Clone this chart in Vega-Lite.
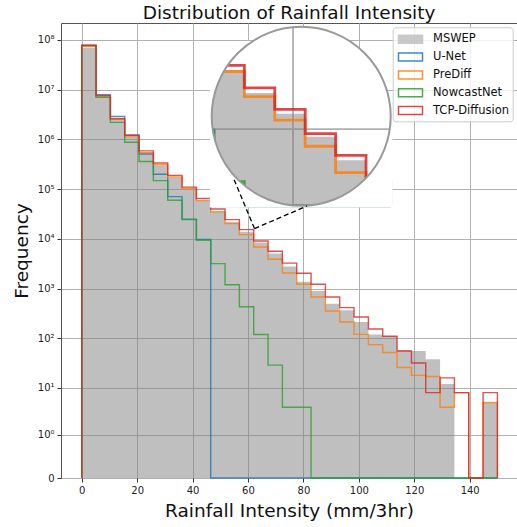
{
  "$schema": "https://vega.github.io/schema/vega-lite/v6.json",
  "width": 456,
  "height": 455,
  "autosize": {"type": "none"},
  "padding": {"left": 61, "top": 23, "right": 0, "bottom": 49},
  "title": {"text": "Distribution of Rainfall Intensity", "fontSize": 18.5, "font": "DejaVu Sans", "fontWeight": "normal", "color": "#111", "anchor": "middle", "frame": "group", "offset": 6, "baseline": "alphabetic", "dy": 21},
  "config": {
    "font": "DejaVu Sans",
    "view": {"stroke": "#555", "strokeWidth": 1}
  },
  "datasets": {
    "steps": [
      {"model":"MSWEP","i":0,"edge":0,"count":0},
      {"model":"MSWEP","i":1,"edge":0,"count":69000000},
      {"model":"MSWEP","i":2,"edge":5.172,"count":7300000},
      {"model":"MSWEP","i":3,"edge":10.345,"count":2450000},
      {"model":"MSWEP","i":4,"edge":15.517,"count":1100000},
      {"model":"MSWEP","i":5,"edge":20.69,"count":550000},
      {"model":"MSWEP","i":6,"edge":25.862,"count":300000},
      {"model":"MSWEP","i":7,"edge":31.034,"count":170000},
      {"model":"MSWEP","i":8,"edge":36.207,"count":102000},
      {"model":"MSWEP","i":9,"edge":41.379,"count":59000},
      {"model":"MSWEP","i":10,"edge":46.552,"count":36000},
      {"model":"MSWEP","i":11,"edge":51.724,"count":22000},
      {"model":"MSWEP","i":12,"edge":56.897,"count":14000},
      {"model":"MSWEP","i":13,"edge":62.069,"count":8500},
      {"model":"MSWEP","i":14,"edge":67.241,"count":5100},
      {"model":"MSWEP","i":15,"edge":72.414,"count":2800},
      {"model":"MSWEP","i":16,"edge":77.586,"count":1380},
      {"model":"MSWEP","i":17,"edge":82.759,"count":900},
      {"model":"MSWEP","i":18,"edge":87.931,"count":500},
      {"model":"MSWEP","i":19,"edge":93.103,"count":368},
      {"model":"MSWEP","i":20,"edge":98.276,"count":214},
      {"model":"MSWEP","i":21,"edge":103.448,"count":120},
      {"model":"MSWEP","i":22,"edge":108.621,"count":111},
      {"model":"MSWEP","i":23,"edge":113.793,"count":58},
      {"model":"MSWEP","i":24,"edge":118.966,"count":56},
      {"model":"MSWEP","i":25,"edge":124.138,"count":38},
      {"model":"MSWEP","i":26,"edge":129.31,"count":12},
      {"model":"MSWEP","i":27,"edge":134.483,"count":0},
      {"model":"MSWEP","i":28,"edge":139.655,"count":0},
      {"model":"MSWEP","i":29,"edge":144.828,"count":5},
      {"model":"MSWEP","i":30,"edge":150,"count":5},
      {"model":"MSWEP","i":31,"edge":150,"count":0},

      {"model":"U-Net","i":0,"edge":0,"count":0},
      {"model":"U-Net","i":1,"edge":0,"count":77000000},
      {"model":"U-Net","i":2,"edge":5.172,"count":7900000},
      {"model":"U-Net","i":3,"edge":10.345,"count":2900000},
      {"model":"U-Net","i":4,"edge":15.517,"count":1230000},
      {"model":"U-Net","i":5,"edge":20.69,"count":510000},
      {"model":"U-Net","i":6,"edge":25.862,"count":200000},
      {"model":"U-Net","i":7,"edge":31.034,"count":71000},
      {"model":"U-Net","i":8,"edge":36.207,"count":25000},
      {"model":"U-Net","i":9,"edge":41.379,"count":9800},
      {"model":"U-Net","i":10,"edge":46.552,"count":0},
      {"model":"U-Net","i":11,"edge":51.724,"count":0},
      {"model":"U-Net","i":12,"edge":56.897,"count":0},
      {"model":"U-Net","i":13,"edge":62.069,"count":0},
      {"model":"U-Net","i":14,"edge":67.241,"count":0},
      {"model":"U-Net","i":15,"edge":72.414,"count":0},
      {"model":"U-Net","i":16,"edge":77.586,"count":0},
      {"model":"U-Net","i":17,"edge":82.759,"count":0},
      {"model":"U-Net","i":18,"edge":87.931,"count":0},
      {"model":"U-Net","i":19,"edge":93.103,"count":0},
      {"model":"U-Net","i":20,"edge":98.276,"count":0},
      {"model":"U-Net","i":21,"edge":103.448,"count":0},
      {"model":"U-Net","i":22,"edge":108.621,"count":0},
      {"model":"U-Net","i":23,"edge":113.793,"count":0},
      {"model":"U-Net","i":24,"edge":118.966,"count":0},
      {"model":"U-Net","i":25,"edge":124.138,"count":0},
      {"model":"U-Net","i":26,"edge":129.31,"count":0},
      {"model":"U-Net","i":27,"edge":134.483,"count":0},
      {"model":"U-Net","i":28,"edge":139.655,"count":0},
      {"model":"U-Net","i":29,"edge":144.828,"count":0},
      {"model":"U-Net","i":30,"edge":150,"count":0},
      {"model":"U-Net","i":31,"edge":150,"count":0},

      {"model":"PreDiff","i":0,"edge":0,"count":0},
      {"model":"PreDiff","i":1,"edge":0,"count":74000000},
      {"model":"PreDiff","i":2,"edge":5.172,"count":7400000},
      {"model":"PreDiff","i":3,"edge":10.345,"count":2550000},
      {"model":"PreDiff","i":4,"edge":15.517,"count":1120000},
      {"model":"PreDiff","i":5,"edge":20.69,"count":540000},
      {"model":"PreDiff","i":6,"edge":25.862,"count":310000},
      {"model":"PreDiff","i":7,"edge":31.034,"count":176000},
      {"model":"PreDiff","i":8,"edge":36.207,"count":103000},
      {"model":"PreDiff","i":9,"edge":41.379,"count":59000},
      {"model":"PreDiff","i":10,"edge":46.552,"count":35000},
      {"model":"PreDiff","i":11,"edge":51.724,"count":20300},
      {"model":"PreDiff","i":12,"edge":56.897,"count":12200},
      {"model":"PreDiff","i":13,"edge":62.069,"count":6900},
      {"model":"PreDiff","i":14,"edge":67.241,"count":3900},
      {"model":"PreDiff","i":15,"edge":72.414,"count":2070},
      {"model":"PreDiff","i":16,"edge":77.586,"count":1230},
      {"model":"PreDiff","i":17,"edge":82.759,"count":681},
      {"model":"PreDiff","i":18,"edge":87.931,"count":357},
      {"model":"PreDiff","i":19,"edge":93.103,"count":214},
      {"model":"PreDiff","i":20,"edge":98.276,"count":121},
      {"model":"PreDiff","i":21,"edge":103.448,"count":75},
      {"model":"PreDiff","i":22,"edge":108.621,"count":52},
      {"model":"PreDiff","i":23,"edge":113.793,"count":26},
      {"model":"PreDiff","i":24,"edge":118.966,"count":18},
      {"model":"PreDiff","i":25,"edge":124.138,"count":17},
      {"model":"PreDiff","i":26,"edge":129.31,"count":4},
      {"model":"PreDiff","i":27,"edge":134.483,"count":8},
      {"model":"PreDiff","i":28,"edge":139.655,"count":0},
      {"model":"PreDiff","i":29,"edge":144.828,"count":5},
      {"model":"PreDiff","i":30,"edge":150,"count":5},
      {"model":"PreDiff","i":31,"edge":150,"count":0},

      {"model":"NowcastNet","i":0,"edge":0,"count":0},
      {"model":"NowcastNet","i":1,"edge":0,"count":77000000},
      {"model":"NowcastNet","i":2,"edge":5.172,"count":7000000},
      {"model":"NowcastNet","i":3,"edge":10.345,"count":2200000},
      {"model":"NowcastNet","i":4,"edge":15.517,"count":880000},
      {"model":"NowcastNet","i":5,"edge":20.69,"count":360000},
      {"model":"NowcastNet","i":6,"edge":25.862,"count":149000},
      {"model":"NowcastNet","i":7,"edge":31.034,"count":60000},
      {"model":"NowcastNet","i":8,"edge":36.207,"count":24500},
      {"model":"NowcastNet","i":9,"edge":41.379,"count":9400},
      {"model":"NowcastNet","i":10,"edge":46.552,"count":3200},
      {"model":"NowcastNet","i":11,"edge":51.724,"count":1200},
      {"model":"NowcastNet","i":12,"edge":56.897,"count":434},
      {"model":"NowcastNet","i":13,"edge":62.069,"count":120},
      {"model":"NowcastNet","i":14,"edge":67.241,"count":29},
      {"model":"NowcastNet","i":15,"edge":72.414,"count":4},
      {"model":"NowcastNet","i":16,"edge":77.586,"count":4},
      {"model":"NowcastNet","i":17,"edge":82.759,"count":0},
      {"model":"NowcastNet","i":18,"edge":87.931,"count":0},
      {"model":"NowcastNet","i":19,"edge":93.103,"count":0},
      {"model":"NowcastNet","i":20,"edge":98.276,"count":0},
      {"model":"NowcastNet","i":21,"edge":103.448,"count":0},
      {"model":"NowcastNet","i":22,"edge":108.621,"count":0},
      {"model":"NowcastNet","i":23,"edge":113.793,"count":0},
      {"model":"NowcastNet","i":24,"edge":118.966,"count":0},
      {"model":"NowcastNet","i":25,"edge":124.138,"count":0},
      {"model":"NowcastNet","i":26,"edge":129.31,"count":0},
      {"model":"NowcastNet","i":27,"edge":134.483,"count":0},
      {"model":"NowcastNet","i":28,"edge":139.655,"count":0},
      {"model":"NowcastNet","i":29,"edge":144.828,"count":0},
      {"model":"NowcastNet","i":30,"edge":150,"count":0},
      {"model":"NowcastNet","i":31,"edge":150,"count":0},

      {"model":"TCP-Diffusion","i":0,"edge":0,"count":0},
      {"model":"TCP-Diffusion","i":1,"edge":0,"count":79000000},
      {"model":"TCP-Diffusion","i":2,"edge":5.172,"count":7600000},
      {"model":"TCP-Diffusion","i":3,"edge":10.345,"count":2600000},
      {"model":"TCP-Diffusion","i":4,"edge":15.517,"count":1200000},
      {"model":"TCP-Diffusion","i":5,"edge":20.69,"count":590000},
      {"model":"TCP-Diffusion","i":6,"edge":25.862,"count":336000},
      {"model":"TCP-Diffusion","i":7,"edge":31.034,"count":190000},
      {"model":"TCP-Diffusion","i":8,"edge":36.207,"count":110000},
      {"model":"TCP-Diffusion","i":9,"edge":41.379,"count":65000},
      {"model":"TCP-Diffusion","i":10,"edge":46.552,"count":40000},
      {"model":"TCP-Diffusion","i":11,"edge":51.724,"count":24500},
      {"model":"TCP-Diffusion","i":12,"edge":56.897,"count":15400},
      {"model":"TCP-Diffusion","i":13,"edge":62.069,"count":9100},
      {"model":"TCP-Diffusion","i":14,"edge":67.241,"count":5650},
      {"model":"TCP-Diffusion","i":15,"edge":72.414,"count":3270},
      {"model":"TCP-Diffusion","i":16,"edge":77.586,"count":2040},
      {"model":"TCP-Diffusion","i":17,"edge":82.759,"count":1230},
      {"model":"TCP-Diffusion","i":18,"edge":87.931,"count":681},
      {"model":"TCP-Diffusion","i":19,"edge":93.103,"count":417},
      {"model":"TCP-Diffusion","i":20,"edge":98.276,"count":270},
      {"model":"TCP-Diffusion","i":21,"edge":103.448,"count":155},
      {"model":"TCP-Diffusion","i":22,"edge":108.621,"count":111},
      {"model":"TCP-Diffusion","i":23,"edge":113.793,"count":56},
      {"model":"TCP-Diffusion","i":24,"edge":118.966,"count":32},
      {"model":"TCP-Diffusion","i":25,"edge":124.138,"count":8},
      {"model":"TCP-Diffusion","i":26,"edge":129.31,"count":16},
      {"model":"TCP-Diffusion","i":27,"edge":134.483,"count":8},
      {"model":"TCP-Diffusion","i":28,"edge":139.655,"count":0},
      {"model":"TCP-Diffusion","i":29,"edge":144.828,"count":8},
      {"model":"TCP-Diffusion","i":30,"edge":150,"count":8},
      {"model":"TCP-Diffusion","i":31,"edge":150,"count":0}
    ]
  },
  "data": {"name": "steps"},
  "resolve": {"scale": {"x": "independent", "y": "independent"}},
  "layer": [
    {
      "layer": [
        {
          "transform": [{"filter": "datum.model === 'MSWEP' && datum.i > 0 && datum.i < 31"}],
          "mark": {"type": "area", "interpolate": "step-after", "opacity": 0.5, "color": "#808080"},
          "encoding": {
            "x": {"field": "edge", "type": "quantitative",
              "scale": {"domain": [-7.47, 157.07], "nice": false, "zero": false},
              "axis": {"title": "Rainfall Intensity (mm/3hr)", "values": [0,20,40,60,80,100,120,140], "format": "d", "domain": false, "tickColor": "#333", "tickSize": 4, "tickWidth": 1, "labelFontSize": 10, "labelColor": "#222", "labelPadding": 3, "labelFont": "DejaVu Sans", "titleFont": "DejaVu Sans", "titleFontSize": 18.5, "titleFontWeight": "normal", "titleColor": "#111", "titlePadding": 6, "grid": true, "gridColor": "#b0b0b0", "gridWidth": 1, "labelFlush": false, "labelOverlap": false}},
            "y": {"field": "count", "type": "quantitative", "stack": null,
              "scale": {"type": "symlog", "constant": 0.157, "domain": [0, 219000000], "nice": false, "zero": false},
              "axis": {"title": "Frequency", "values": [0,1,10,100,1000,10000,100000,1000000,10000000,100000000], "labelExpr": "datum.value == 0 ? '0' : '10' + ['⁰','¹','²','³','⁴','⁵','⁶','⁷','⁸'][round(log(datum.value)/LN10)]", "domain": false, "tickColor": "#333", "tickSize": 4, "tickWidth": 1, "labelFontSize": 10, "labelColor": "#222", "labelPadding": 3, "labelFont": "DejaVu Sans", "titleFont": "DejaVu Sans", "titleFontSize": 18.5, "titleFontWeight": "normal", "titleColor": "#111", "titlePadding": 6, "grid": true, "gridColor": "#b0b0b0", "gridWidth": 1, "labelOverlap": false}},
            "y2": {"datum": 0}
          }
        },
        {
          "transform": [{"filter": "datum.model !== 'MSWEP'"}],
          "mark": {"type": "line", "interpolate": "step-after", "opacity": 0.8, "strokeWidth": 1.4},
          "encoding": {
            "x": {"field": "edge", "type": "quantitative"},
            "y": {"field": "count", "type": "quantitative"},
            "stroke": {"field": "model", "type": "nominal",
              "scale": {"domain": ["MSWEP","U-Net","PreDiff","NowcastNet","TCP-Diffusion"], "range": ["#c0c0c0","#1f77b4","#ff7f0e","#2ca02c","#d62728"]},
              "legend": {"title": null, "orient": "none", "legendX": 331.7, "legendY": 4.3,
                "symbolType": "M-1.5,-0.5L1.5,-0.5L1.5,0.5L-1.5,0.5Z", "symbolSize": 256, "symbolStrokeWidth": 1.5,
                "symbolFillColor": "transparent", "symbolStrokeColor": "#c0c0c0", "symbolOpacity": 0.85,
                "symbolOffset": 5.8, "labelOffset": 13.5, "labelFontSize": 11.5, "labelFont": "DejaVu Sans", "labelColor": "#111",
                "rowPadding": 1.8, "padding": 3, "strokeColor": "#cccccc", "fillColor": "rgba(255,255,255,0.8)", "cornerRadius": 3}},
            "fill": {"field": "model", "type": "nominal",
              "scale": {"domain": ["MSWEP","U-Net","PreDiff","NowcastNet","TCP-Diffusion"], "range": ["#c0c0c0","transparent","transparent","transparent","transparent"]},
              "legend": {"title": null, "orient": "none", "legendX": 331.7, "legendY": 4.3,
                "symbolType": "M-1.5,-0.5L1.5,-0.5L1.5,0.5L-1.5,0.5Z", "symbolSize": 256, "symbolStrokeWidth": 1.5,
                "symbolFillColor": "transparent", "symbolStrokeColor": "#c0c0c0", "symbolOpacity": 0.85,
                "symbolOffset": 5.8, "labelOffset": 13.5, "labelFontSize": 11.5, "labelFont": "DejaVu Sans", "labelColor": "#111",
                "rowPadding": 1.8, "padding": 3, "strokeColor": "#cccccc", "fillColor": "rgba(255,255,255,0.8)", "cornerRadius": 3}},
            "order": {"field": "i", "type": "quantitative"}
          }
        }
      ]
    },
    {
      "layer": [
        {
          "data": {"values": [{}]},
          "mark": {"type": "point", "shape": "circle", "filled": true, "color": "white", "opacity": 1, "size": 32041, "strokeWidth": 0},
          "encoding": {
            "x": {"datum": 61.39, "type": "quantitative", "scale": {"domain": [46.17, 76.61], "range": [150.7, 329.7], "nice": false, "zero": false, "clamp": true}, "axis": null},
            "y": {"datum": 13227, "type": "quantitative", "scale": {"type": "symlog", "constant": 0.157, "domain": [1893, 92470], "range": [182.8, 3.8], "nice": false, "zero": false, "clamp": true}, "axis": null}
          }
        },
        {
          "data": {"values": [{}]},
          "mark": {"type": "rule", "color": "#b0b0b0", "strokeWidth": 1.8},
          "encoding": {
            "x": {"datum": 60, "type": "quantitative"},
            "y": {"datum": 1893, "type": "quantitative"},
            "y2": {"datum": 92470}
          }
        },
        {
          "data": {"values": [{}]},
          "mark": {"type": "rule", "color": "#b0b0b0", "strokeWidth": 1.8},
          "encoding": {
            "y": {"datum": 10000, "type": "quantitative"},
            "x": {"datum": 46.17, "type": "quantitative"},
            "x2": {"datum": 76.61}
          }
        },
        {
          "transform": [{"filter": "datum.model === 'MSWEP' && datum.edge > 40 && datum.edge < 80 && datum.i < 31"}],
          "mark": {"type": "area", "interpolate": "step-after", "opacity": 0.5, "color": "#808080"},
          "encoding": {
            "x": {"field": "edge", "type": "quantitative"},
            "y": {"field": "count", "type": "quantitative", "stack": null},
            "y2": {"datum": 0}
          }
        },
        {
          "transform": [{"filter": "datum.model !== 'MSWEP' && datum.edge > 40 && datum.edge < 80"}],
          "mark": {"type": "line", "interpolate": "step-after", "opacity": 0.85, "strokeWidth": 2.8},
          "encoding": {
            "x": {"field": "edge", "type": "quantitative"},
            "y": {"field": "count", "type": "quantitative"},
            "stroke": {"field": "model", "type": "nominal"},
            "fill": {"field": "model", "type": "nominal"},
            "order": {"field": "i", "type": "quantitative"}
          }
        },
        {
          "data": {"values": [{}]},
          "mark": {"type": "point", "shape": "M-1.02,-0.841L-1.02,1.02L1.02,1.02L1.02,0L1,0C1,0.5523,0.5523,1,0,1C-0.5523,1,-1,0.5523,-1,0C-1,-0.3404,-0.827,-0.657,-0.541,-0.841Z", "filled": true, "color": "white", "opacity": 1, "size": 32041, "strokeWidth": 0},
          "encoding": {
            "x": {"datum": 61.39, "type": "quantitative"},
            "y": {"datum": 13227, "type": "quantitative"}
          }
        },
        {
          "data": {"values": [{}]},
          "mark": {"type": "point", "shape": "circle", "filled": false, "stroke": "#999999", "opacity": 1, "size": 32041, "strokeWidth": 2},
          "encoding": {
            "x": {"datum": 61.39, "type": "quantitative"},
            "y": {"datum": 13227, "type": "quantitative"}
          }
        }
      ]
    },
    {
      "data": {"values": [{}]},
      "layer": [
        {
          "mark": {"type": "rule", "color": "black", "strokeWidth": 1.3, "strokeDash": [5, 3]},
          "encoding": {
            "x": {"datum": 62.35, "type": "quantitative", "scale": {"domain": [-7.47, 157.07], "nice": false, "zero": false}, "axis": null},
            "y": {"datum": 16150, "type": "quantitative", "scale": {"type": "symlog", "constant": 0.157, "domain": [0, 219000000], "nice": false, "zero": false}, "axis": null},
            "x2": {"datum": 54.6},
            "y2": {"datum": 176000}
          }
        },
        {
          "mark": {"type": "rule", "color": "black", "strokeWidth": 1.3, "strokeDash": [5, 3]},
          "encoding": {
            "x": {"datum": 62.35, "type": "quantitative"},
            "y": {"datum": 16150, "type": "quantitative"},
            "x2": {"datum": 81.3},
            "y2": {"datum": 46000}
          }
        }
      ]
    }
  ]
}
